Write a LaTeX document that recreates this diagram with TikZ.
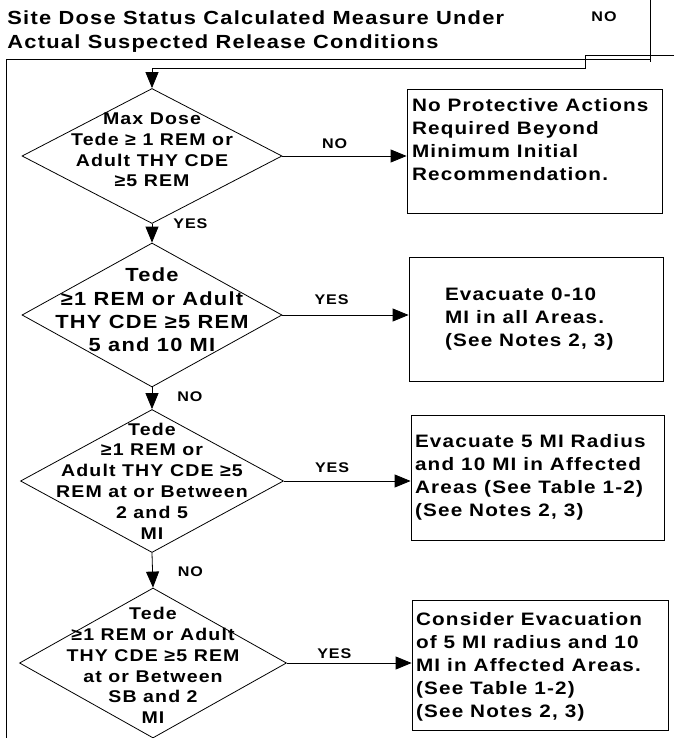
\documentclass[tikz,border=0pt]{standalone}
\usepackage{fontspec}
\setmainfont{Liberation Sans}[FakeStretch=1.15,LetterSpace=6.6]
\usetikzlibrary{positioning,shapes.geometric,arrows.meta}

\begin{document}
\begin{tikzpicture}[x=1pt, y=-1pt, line width=0.8pt,
    decision/.style={diamond, draw, inner sep=0pt},
    action/.style={rectangle, draw, inner sep=0pt},
    dtext/.style={align=center, inner sep=0pt, font=\bfseries\fontsize{17}{20.8}\selectfont},
    btext/.style={align=left, inner sep=0pt, font=\bfseries\fontsize{18}{23}\selectfont},
    answer/.style={inner sep=0pt, font=\bfseries\fontsize{14}{16}\selectfont},
    arrow/.style={-{Triangle[length=16pt,width=13pt]}}]
			\useasboundingbox (0,0) rectangle (674,738);
			% heading and frame
			\node[btext, anchor=north west, font=\bfseries\fontsize{19}{24.5}\selectfont] (title) at (7,10)
				{Site Dose Status Calculated Measure Under\\Actual Suspected Release Conditions};
			\node[answer] (topno) at (604,17) {NO};
			\draw (650,0) -- (650,62);
			\draw (6,738) -- (6,59) -- (650,59);
			% decisions
			\node[decision, minimum width=260, minimum height=135] (d1) at (152,156) {};
			\node[decision, minimum width=260, minimum height=144] (d2) at (152,315) {};
			\node[decision, minimum width=263, minimum height=143] (d3) at (152,481) {};
			\node[decision, minimum width=267, minimum height=150] (d4) at (153,663) {};
			\node[dtext, yshift=6pt] at (d1) {Max Dose\\Tede ≥ 1 REM or\\Adult THY CDE\\≥5 REM};
			\node[dtext, yshift=5pt, font=\bfseries\fontsize{19}{23.3}\selectfont] at (d2)
				{Tede\\≥1 REM or Adult\\THY CDE ≥5 REM\\5 and 10 MI};
			\node[dtext] at (d3) {Tede\\≥1 REM or\\Adult THY CDE ≥5\\REM at or Between\\2 and 5\\MI};
			\node[dtext, yshift=-2.5pt] at (d4) {Tede\\≥1 REM or Adult\\THY CDE ≥5 REM\\at or Between\\SB and 2\\MI};
			% actions
			\node[action, minimum width=255, minimum height=124] (b1) at (534.5,151) {};
			\node[action, minimum width=254, minimum height=124] (b2) at (536,319) {};
			\node[action, minimum width=253, minimum height=125] (b3) at (537.5,477.5) {};
			\node[action, minimum width=256, minimum height=130] (b4) at (540,665) {};
			\node[btext, anchor=north west] at ([xshift=5pt, yshift=-9.5pt]b1.north west)
				{No Protective Actions\\Required Beyond\\Minimum Initial\\Recommendation.};
			\node[btext, right=36pt of b2.west] {Evacuate 0-10\\MI in all Areas.\\(See Notes 2, 3)};
			\node[btext, right=4pt of b3.west] {Evacuate 5 MI Radius\\and 10 MI in Affected\\Areas (See Table 1-2)\\(See Notes 2, 3)};
			\node[btext, right=4pt of b4.west, yshift=-1.5pt] {Consider Evacuation\\of 5 MI radius and 10\\MI in Affected Areas.\\(See Table 1-2)\\(See Notes 2, 3)};
			% connectors
			\coordinate (loopin) at (674,55);
			\draw[arrow] (loopin) -- (585,55) -- (585,68) -- (d1.north |- 0,68) -- (d1.north);
			\draw[arrow] (d1.east) -- (d1.east -| b1.west) node[answer, pos=.42, above=7pt] {NO};
			\draw[arrow] (d1.south) -- (d2.north) node[answer, pos=0, right=21pt] {YES};
			\draw[arrow] (d2.east) -- (d2.east -| b2.west) node[answer, pos=.39, above=10pt] {YES};
			\draw[arrow] (d2.south) -- (d3.north) node[answer, pos=.45, right=25pt] {NO};
			\draw[arrow] (d3.east) -- (d3.east -| b3.west) node[answer, pos=.38, above=8pt] {YES};
			\draw[arrow] (d3.south) -- (d4.north) node[answer, pos=.55, right=25pt] {NO};
			\draw[arrow] (d4.east) -- (d4.east -| b4.west) node[answer, pos=.38, above=4pt] {YES};
		\end{tikzpicture}
\end{document}
